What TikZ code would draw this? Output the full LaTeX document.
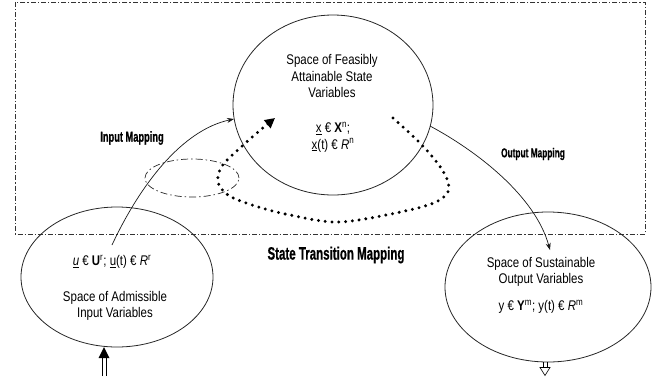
\documentclass[tikz,border=0pt]{standalone}
\usepackage{fontspec}
\setmainfont{Liberation Sans}
\newfontfamily\ntext[FakeStretch=0.82]{Liberation Sans}
\newfontfamily\lbl[FakeStretch=0.64, BoldFeatures={FakeBold=0.6}]{Liberation Sans}
\usetikzlibrary{shapes.geometric,arrows.meta}
\tikzset{
  space/.style={ellipse, draw=black!85, line width=0.8pt, inner sep=0pt},
  txt/.style={align=center, inner sep=0pt, font=\ntext\fontsize{14}{16.5}\selectfont},
  maplbl/.style={inner sep=0pt},
  frame/.style={draw=black!80, line width=0.7pt, dash pattern=on 5pt off 2pt on 1.2pt off 2pt},
  ring/.style={draw=black!85, line width=0.7pt, dash pattern=on 7pt off 3pt on 1.5pt off 3pt},
  mapping/.style={draw=black!90, line width=0.7pt, -{Stealth[length=7pt,width=5pt]}},
  dotloop/.style={line width=3.3pt, dash pattern=on 0pt off 6.8pt, line cap=round, -{Triangle[length=10pt,width=10pt]}},
}
\begin{document}
\begin{tikzpicture}[x=1pt,y=-1pt]
\useasboundingbox (0,0) rectangle (662,376);
% system boundary
\draw[frame] (15,2) rectangle (645,234);
% spaces
\node[space, minimum width=200pt, minimum height=180pt] (state) at (333,105) {};
\node[space, minimum width=192pt, minimum height=140pt] (input) at (117,277) {};
\node[space, minimum width=206pt, minimum height=150pt] (output) at (548,287) {};
% texts
\node[txt] (stateT) at (332,76) {Space of Feasibly\\Attainable State\\Variables};
\node[txt] (stateM) at (333,137) {\underline{x} € \textbf{X}\textsuperscript{n};\\\underline{x}(t) € \textit{R}\textsuperscript{n}};
\node[txt] (inputM) at (112,262) {\underline{\textit{u}} € \textbf{U}\textsuperscript{r}; \underline{u}(t) € \textit{R}\textsuperscript{r}};
\node[txt] (inputT) at (115,306) {Space of Admissible\\Input Variables};
\node[txt] (outputT) at (541,272) {Space of Sustainable\\Output Variables};
\node[txt] (outputM) at (541,307) {y € \textbf{Y}\textsuperscript{m}; y(t) € \textit{R}\textsuperscript{m}};
% labels
\node[maplbl, font=\lbl\bfseries\fontsize{14.5}{16}\selectfont] (inLbl) at (132,138) {Input Mapping};
\node[maplbl, font=\lbl\bfseries\fontsize{13}{15}\selectfont] (outLbl) at (533,154) {Output Mapping};
\node[maplbl, font=\lbl\bfseries\fontsize{18}{20}\selectfont] (trLbl) at (336,255) {State Transition Mapping};
% input mapping
\coordinate (inStart) at (112,245);
\coordinate (stateIn) at (234,119);
\draw[mapping] (inStart) .. controls (140,185) and (182,130) .. (stateIn);
% output mapping
\coordinate (stateOut) at (430,126);
\coordinate (outEnd) at (550,250);
\draw[mapping] (stateOut) .. controls (475,150) and (535,195) .. (outEnd);
% small dash-dot ellipse
\node[ellipse, ring, minimum width=94pt, minimum height=38pt, inner sep=0pt] (ringN) at (192,178) {};
% state transition loop
\coordinate (loopStart) at (393,118);
\coordinate (loopEnd) at (275,118);
\draw[dotloop] plot[smooth, tension=0.55] coordinates {(393,118) (420,143) (441,168) (449,188) (438,201) (405,211) (340,222) (290,215) (252,205) (228,195) (218,182) (222,166) (240,148) (258,132) (275,118)};
% external input (double line, filled head)
\coordinate (inFoot) at (104,376);
\coordinate (inHead) at (104,347);
\draw[line width=0.8pt] (102,376) -- (102,356);
\draw[line width=0.8pt] (106,376) -- (106,356);
\fill (inHead) -- (98.5,358) -- (109.5,358) -- cycle;
% external output (double line, open head)
\coordinate (outTop) at (545,362);
\coordinate (outTip) at (545,375.5);
\draw[line width=0.6pt] (543,362) -- (543,368);
\draw[line width=0.6pt] (547,362) -- (547,368);
\draw[line width=0.6pt, line join=miter] (outTip) -- (540,367.5) -- (550,367.5) -- cycle;
\end{tikzpicture}
\end{document}
